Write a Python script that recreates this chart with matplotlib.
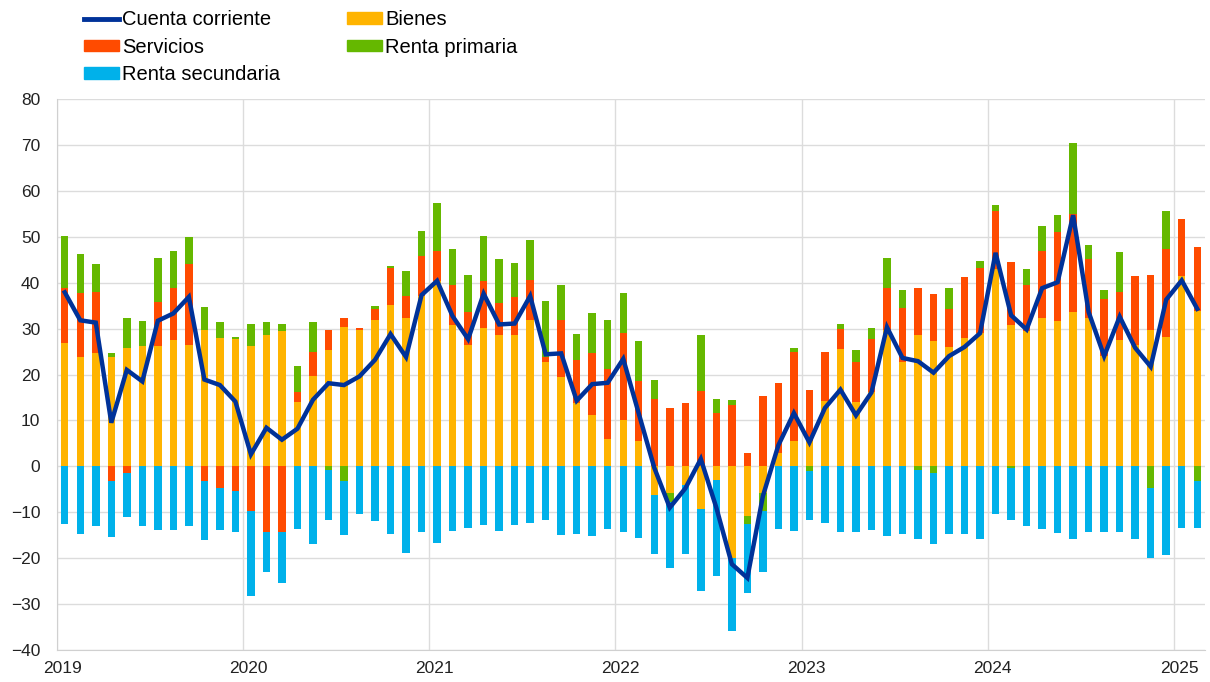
import matplotlib
matplotlib.use("Agg")
import matplotlib.pyplot as plt
import numpy as np
from matplotlib.patches import Patch
from matplotlib.lines import Line2D
from matplotlib.transforms import ScaledTranslation

plt.rcParams['font.family'] = ['Liberation Sans', 'DejaVu Sans']

years = ["2019", "2020", "2021", "2022", "2023", "2024", "2025"]

bienes = [26.9, 23.8, 24.6, 23.8, 25.8, 26.1, 26.1, 27.6, 26.5, 29.7, 28.0, 27.7,
          26.1, 28.6, 29.4, 14.1, 19.6, 25.3, 30.3, 29.8, 31.9, 35.2, 32.2, 37.1,
          40.4, 30.7, 26.4, 30.2, 28.5, 28.5, 31.9, 22.7, 19.5, 13.7, 11.2, 6.0,
          10.0, 5.5, -6.2, -5.7, -4.1, -9.3, -3.0, -20.0, -10.9, -5.7, 3.0, 5.5,
          5.5, 14.3, 25.6, 14.1, 16.1, 29.8, 22.7, 28.5, 27.3, 26.0, 28.0, 29.0,
          43.0, 30.7, 29.5, 32.2, 31.7, 33.7, 32.2, 24.0, 27.6, 26.5, 29.7, 28.1,
          41.4, 33.9]
servicios = [11.9, 13.9, 13.4, -3.2, -1.5, 0.0, 9.6, 11.2, 17.5, -3.2, -4.7, -5.3,
             -9.7, -14.2, -14.4, 2.0, 5.2, 4.4, 2.0, 0.3, 2.3, 8.0, 5.0, 8.7,
             6.4, 8.7, 7.3, 10.2, 7.0, 8.4, 8.7, 1.2, 12.3, 9.5, 13.4, 15.1,
             19.0, 13.0, 14.7, 12.7, 13.9, 16.5, 11.6, 13.3, 3.0, 15.4, 15.2, 19.5,
             11.1, 10.7, 4.3, 8.7, 11.6, 9.0, 11.8, 10.3, 10.2, 8.3, 13.2, 14.2,
             12.7, 13.9, 9.9, 14.8, 19.4, 21.2, 13.0, 12.5, 10.4, 14.9, 12.0, 19.3,
             12.5, 13.9]
renta_primaria = [11.3, 8.6, 6.1, 0.9, 6.4, 5.6, 9.6, 8.2, 6.0, 5.0, 3.4, 0.5,
                  5.0, 2.8, 1.7, 5.8, 6.6, -0.8, -3.3, 0.0, 0.8, 0.4, 5.4, 5.5,
                  10.5, 8.0, 7.9, 9.7, 9.7, 7.3, 8.6, 12.2, 7.6, 5.7, 8.7, 10.7,
                  8.7, 8.9, 4.2, -2.0, 0.0, 12.1, 3.1, 1.2, -1.6, -4.0, 0.0, 0.8,
                  -1.0, 0.0, 1.0, 2.6, 2.4, 6.6, 4.0, -0.8, -1.5, 4.5, 0.0, 1.6,
                  1.2, -0.4, 3.5, 5.3, 3.6, 15.6, 3.0, 1.8, 8.6, 0.0, -4.8, 8.1,
                  0.0, -3.2]
renta_secundaria = [-12.6, -14.8, -13.1, -12.2, -9.6, -13.1, -13.9, -13.9, -13.1, -12.8, -9.2, -9.1,
                    -18.6, -8.9, -10.9, -13.6, -17.0, -10.8, -11.7, -10.3, -12.0, -14.8, -18.8, -14.3,
                    -16.8, -14.0, -13.5, -12.8, -14.0, -12.8, -12.3, -11.6, -15.0, -14.8, -15.2, -13.6,
                    -14.3, -15.6, -13.0, -14.4, -14.9, -17.8, -20.9, -15.8, -15.0, -13.4, -13.6, -14.0,
                    -10.6, -12.3, -14.4, -14.4, -13.8, -15.2, -14.8, -15.0, -15.5, -14.8, -14.8, -15.8,
                    -10.3, -11.2, -13.1, -13.6, -14.6, -15.8, -14.4, -14.2, -14.2, -15.8, -15.2, -19.3,
                    -13.5, -10.3]
cuenta_corriente = [37.9, 31.8, 31.3, 9.5, 21.0, 18.5, 31.7, 33.3, 36.9, 18.9, 17.7, 14.1,
                    2.6, 8.4, 5.8, 8.2, 14.5, 18.1, 17.7, 19.6, 23.2, 28.8, 23.8, 37.3,
                    40.4, 32.7, 27.7, 37.6, 30.9, 31.1, 37.1, 24.4, 24.6, 14.3, 17.9, 18.2,
                    23.4, 11.5, -0.3, -9.0, -4.8, 1.6, -9.0, -21.3, -24.3, -6.5, 4.6, 11.6,
                    5.2, 12.7, 16.7, 11.1, 16.1, 30.3, 23.6, 22.9, 20.4, 24.0, 26.0, 29.0,
                    46.5, 32.9, 29.8, 38.8, 40.1, 54.7, 33.6, 24.0, 32.6, 25.8, 21.7, 36.3,
                    40.5, 34.3]

series = [("Bienes", bienes, "#FFB400"),
          ("Servicios", servicios, "#FF4B00"),
          ("Renta primaria", renta_primaria, "#65B800"),
          ("Renta secundaria", renta_secundaria, "#00B1EA")]
line_color = "#003299"

fig = plt.figure(figsize=(12.1, 6.82), dpi=100)
ax = fig.add_axes([57/1210, 1-650/682, (1205-57)/1210, (650-99)/682])

n = len(bienes)
x = np.arange(n)
pos_base = np.zeros(n)
neg_base = np.zeros(n)
for name, vals, col in series:
    v = np.array(vals)
    base = np.where(v >= 0, pos_base, neg_base)
    ax.bar(x, v, bottom=base, width=0.48, color=col, linewidth=0, zorder=2)
    pos_base = pos_base + np.where(v >= 0, v, 0)
    neg_base = neg_base + np.where(v < 0, v, 0)

ax.plot(x, cuenta_corriente, color=line_color, lw=3.2, zorder=3, solid_joinstyle='miter')

ax.set_xlim(-0.5, n - 0.5)
ax.set_ylim(-40, 80)
ax.set_yticks(np.arange(-40, 81, 10))
ticks = [-0.5 + 12*i for i in range(len(years))]
ax.set_xticks(ticks)
ax.set_xticklabels(years)
ax.grid(True, color="#dcdcdc", lw=1, zorder=0)
ax.set_axisbelow(True)
for s in ["top", "right"]:
    ax.spines[s].set_visible(False)
for s in ["left", "bottom"]:
    ax.spines[s].set_color("#d0d0d0")
ax.tick_params(axis='both', length=0, labelsize=12.5, colors="#222222")
ax.tick_params(axis='y', pad=12)
ax.tick_params(axis='x', pad=8)
for lab in ax.get_xticklabels():
    lab.set_transform(lab.get_transform() + ScaledTranslation(5/100, 0, fig.dpi_scale_trans))

handles = [Line2D([0], [0], color=line_color, lw=3.5),
           Patch(color="#FF4B00"),
           Patch(color="#00B1EA"),
           Patch(color="#FFB400"),
           Patch(color="#65B800")]
labels = ["Cuenta corriente", "Servicios", "Renta secundaria", "Bienes", "Renta primaria"]
fig.legend(handles, labels, loc="upper left", bbox_to_anchor=(72/1210, 1.0 + 2/682), ncol=2,
           frameon=False, fontsize=14.5, handlelength=1.75, handleheight=0.5,
           handletextpad=0.15, columnspacing=3.3, labelspacing=0.42, borderaxespad=0.2)

fig.savefig("out.png", dpi=100)
